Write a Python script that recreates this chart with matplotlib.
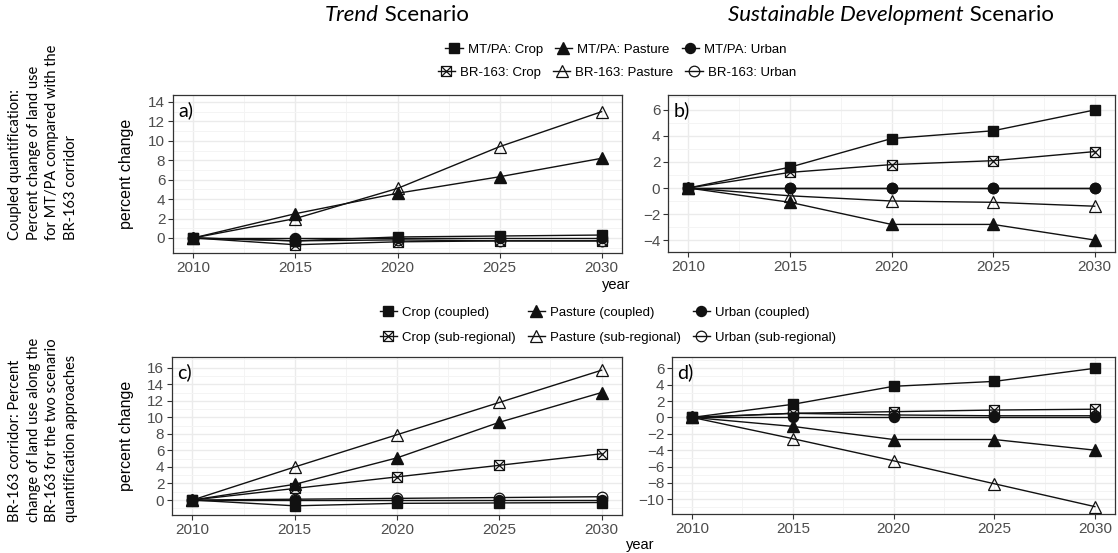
import matplotlib
matplotlib.use("Agg")
import matplotlib.pyplot as plt
from matplotlib.path import Path
from matplotlib.lines import Line2D
from matplotlib.ticker import MultipleLocator

# ---------------- data ----------------
years = [2010, 2015, 2020, 2025, 2030]

# a) Trend scenario, coupled quantification (MT/PA vs BR-163)
a_mtpa_crop = [0, -0.3, 0.1, 0.2, 0.3]
a_mtpa_pasture = [0, 2.5, 4.6, 6.3, 8.2]
a_mtpa_urban = [0, 0, 0, 0, 0]
a_br_crop = [0, -0.7, -0.4, -0.3, -0.3]
a_br_pasture = [0, 2.0, 5.1, 9.4, 13.0]
a_br_urban = [0, -0.3, -0.2, -0.3, -0.3]

# b) Sustainable Development scenario, coupled quantification
b_mtpa_crop = [0, 1.6, 3.8, 4.4, 6.0]
b_mtpa_pasture = [0, -1.1, -2.8, -2.8, -4.0]
b_mtpa_urban = [0, 0, 0, 0, 0]
b_br_crop = [0, 1.2, 1.8, 2.1, 2.8]
b_br_pasture = [0, -0.6, -1.0, -1.1, -1.4]
b_br_urban = [0, 0, 0, 0, 0]

# c) Trend scenario, BR-163 corridor: coupled vs sub-regional
c_crop_coupled = [0, -0.7, -0.4, -0.35, -0.3]
c_pasture_coupled = [0, 1.9, 5.1, 9.4, 13.0]
c_urban_coupled = [0, 0, 0, 0, 0]
c_crop_sub = [0, 1.4, 2.8, 4.2, 5.6]
c_pasture_sub = [0, 4.0, 7.9, 11.8, 15.7]
c_urban_sub = [0, 0.1, 0.2, 0.3, 0.4]

# d) Sustainable Development scenario, BR-163 corridor
d_crop_coupled = [0, 1.6, 3.8, 4.4, 6.0]
d_pasture_coupled = [0, -1.1, -2.7, -2.7, -4.0]
d_urban_coupled = [0, 0, 0, 0, 0]
d_crop_sub = [0, 0.5, 0.7, 0.9, 1.0]
d_pasture_sub = [0, -2.6, -5.3, -8.1, -10.9]
d_urban_sub = [0, 0.5, 0.3, 0.2, 0.2]

top_labels_1 = ["MT/PA: Crop", "MT/PA: Pasture", "MT/PA: Urban"]
top_labels_2 = ["BR-163: Crop", "BR-163: Pasture", "BR-163: Urban"]
bottom_labels = ["Crop (coupled)", "Pasture (coupled)", "Urban (coupled)",
                 "Crop (sub-regional)", "Pasture (sub-regional)", "Urban (sub-regional)"]

# ---------------- style ----------------
plt.rcParams['font.family'] = ['Liberation Sans', 'DejaVu Sans']
W, H = 1118, 553
fig = plt.figure(figsize=(W / 100, H / 100), dpi=100)


def box(l, t, r, b):
    return [l / W, 1 - b / H, (r - l) / W, (b - t) / H]


crossed_square = Path(
    [(-1, -1), (1, -1), (1, 1), (-1, 1), (-1, -1), (-1, -1), (1, 1), (-1, 1), (1, -1)],
    [Path.MOVETO, Path.LINETO, Path.LINETO, Path.LINETO, Path.CLOSEPOLY,
     Path.MOVETO, Path.LINETO, Path.MOVETO, Path.LINETO])

INK = '#111111'
styles = [
    dict(marker='s', ms=6.8, mfc=INK, mec=INK),            # crop, filled
    dict(marker='^', ms=8.0, mfc=INK, mec=INK),            # pasture, filled
    dict(marker='o', ms=7.2, mfc=INK, mec=INK),            # urban, filled
    dict(marker=crossed_square, ms=7.2, mfc='none', mec=INK, mew=0.9),
    dict(marker='^', ms=9.0, mfc='none', mec=INK, mew=0.9),
    dict(marker='o', ms=7.6, mfc='none', mec=INK, mew=0.9),
]
LW = 1.0


def style_axes(ax, ylim, yticks):
    ax.set_xlim(2009, 2031)
    ax.set_ylim(*ylim)
    ax.set_xticks(years)
    ax.set_yticks(yticks)
    ax.xaxis.set_minor_locator(MultipleLocator(2.5))
    ax.yaxis.set_minor_locator(MultipleLocator(1))
    ax.grid(which='major', color='#EBEBEB', lw=1.0)
    ax.grid(which='minor', color='#F4F4F4', lw=0.7)
    ax.set_axisbelow(True)
    ax.tick_params(which='minor', length=0)
    ax.tick_params(which='major', length=3.5, width=0.8, color='#333333',
                   labelsize=11, labelcolor='#4D4D4D', pad=2)
    for s in ax.spines.values():
        s.set_color('#333333')
        s.set_linewidth(0.9)


def draw(ax, series):
    for vals, st in zip(series, styles):
        ax.plot(years, vals, color=INK, lw=LW, zorder=3, **st)


panels = [
    (box(173, 95, 622, 253), (-1.55, 14.72), range(0, 15, 2),
     [a_mtpa_crop, a_mtpa_pasture, a_mtpa_urban, a_br_crop, a_br_pasture, a_br_urban], "a)"),
    (box(668, 95, 1115, 252), (-4.92, 7.15), range(-4, 7, 2),
     [b_mtpa_crop, b_mtpa_pasture, b_mtpa_urban, b_br_crop, b_br_pasture, b_br_urban], "b)"),
    (box(172, 357, 622, 515), (-1.81, 17.3), range(0, 17, 2),
     [c_crop_coupled, c_pasture_coupled, c_urban_coupled, c_crop_sub, c_pasture_sub, c_urban_sub], "c)"),
    (box(672, 357, 1115, 514), (-11.8, 7.38), range(-10, 7, 2),
     [d_crop_coupled, d_pasture_coupled, d_urban_coupled, d_crop_sub, d_pasture_sub, d_urban_sub], "d)"),
]

for rect, ylim, yt, series, tag in panels:
    ax = fig.add_axes(rect)
    style_axes(ax, ylim, list(yt))
    draw(ax, series)
    ax.text(0.012, 0.905, tag, transform=ax.transAxes, ha='left', va='center',
            fontsize=14, family=['Lato', 'DejaVu Sans'], color='black')

# axis titles
fig.text(127 / W, 1 - 174 / H, "percent change", rotation=90, ha='center', va='center', fontsize=11.5)
fig.text(127 / W, 1 - 436 / H, "percent change", rotation=90, ha='center', va='center', fontsize=11.5)
fig.text(616 / W, 1 - 285 / H, "year", ha='center', va='center', fontsize=10.5)
fig.text(640 / W, 1 - 545 / H, "year", ha='center', va='center', fontsize=10.5)


# legends
def handle(st):
    return Line2D([], [], color=INK, lw=LW, **st)


leg_kw = dict(frameon=False, fontsize=9.5, handlelength=1.3, handletextpad=0.4,
              columnspacing=0.9, borderpad=0, loc='center', numpoints=1)
fig.legend([handle(s) for s in styles[:3]], top_labels_1, ncol=3,
           bbox_to_anchor=(616 / W, 1 - 50 / H), **leg_kw)
fig.legend([handle(s) for s in styles[3:]], top_labels_2, ncol=3,
           bbox_to_anchor=(617 / W, 1 - 73 / H), **leg_kw)

order = [0, 3, 1, 4, 2, 5]
fig.legend([handle(styles[i]) for i in order], [bottom_labels[i] for i in order], ncol=3,
           bbox_to_anchor=(608 / W, 1 - 325 / H), labelspacing=0.95, **leg_kw)

# scenario titles with italic scenario names
fig.canvas.draw()
renderer = fig.canvas.get_renderer()
title_font = ['Lato', 'DejaVu Sans']


def mixed_title(xc, yc, italic, regular, size=16):
    t1 = fig.text(0, 1 - yc / H, italic, style='italic', fontsize=size, family=title_font, va='center')
    t2 = fig.text(0, 1 - yc / H, regular, fontsize=size, family=title_font, va='center')
    w1 = t1.get_window_extent(renderer).width
    w2 = t2.get_window_extent(renderer).width
    x0 = xc - (w1 + w2) / 2
    t1.set_x(x0 / W)
    t2.set_x((x0 + w1) / W)


mixed_title(397, 15, "Trend", " Scenario")
mixed_title(891, 15, "Sustainable Development", " Scenario")

# row descriptions on the left
fig.text(43 / W, 1 - 240 / H,
         "Coupled quantification:\nPercent change of land use\nfor MT/PA compared with the\nBR-163 corridor",
         rotation=90, ha='center', va='bottom', multialignment='left', fontsize=10.5,
         family=title_font, linespacing=1.4)
fig.text(43 / W, 1 - 522 / H,
         "BR-163 corridor: Percent\nchange of land use along the\nBR-163 for the two scenario\nquantification approaches",
         rotation=90, ha='center', va='bottom', multialignment='left', fontsize=10.5,
         family=title_font, linespacing=1.4)

fig.savefig("out.png", dpi=100)
